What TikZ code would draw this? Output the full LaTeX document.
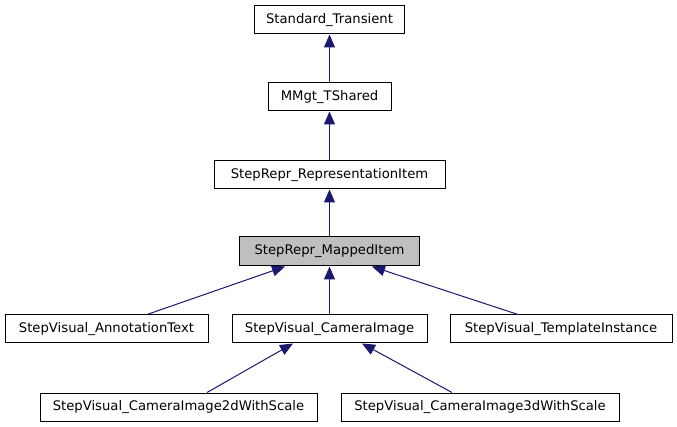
\documentclass[tikz,border=0pt]{standalone}
\usepackage{fontspec}
\setmainfont{DejaVu Sans}
\usetikzlibrary{arrows.meta}
\definecolor{edgeblue}{HTML}{191970}
\definecolor{hlgray}{HTML}{BFBFBF}
\begin{document}
\begin{tikzpicture}[x=1pt,y=-1pt,
  cls/.style={draw=black, line width=1pt, fill=white, rectangle, inner sep=0pt,
    minimum height=28pt, font=\fontsize{13.2}{15}\selectfont},
  hl/.style={cls, fill=hlgray},
  edge/.style={draw=edgeblue, line width=1pt, {Triangle[length=13pt,width=11pt,fill=edgeblue]}-}]
\useasboundingbox (0,0) rectangle (677,427);
\node[cls, minimum width=150pt] (st) at (329.5,20) {Standard\_Transient};
\node[cls, minimum width=123pt] (mm) at (329.5,97) {MMgt\_TShared};
\node[cls, minimum width=231pt] (ri) at (329.5,175) {StepRepr\_RepresentationItem};
\node[hl, minimum width=180pt, minimum height=29pt] (mi) at (329.5,251.5) {StepRepr\_MappedItem};
\node[cls, minimum width=203pt] (at) at (106.5,329) {StepVisual\_AnnotationText};
\node[cls, minimum width=195pt] (ci) at (329.5,329) {StepVisual\_CameraImage};
\node[cls, minimum width=222pt] (ti) at (561,329) {StepVisual\_TemplateInstance};
\node[cls, minimum width=277pt] (c2) at (178.5,407) {StepVisual\_CameraImage2dWithScale};
\node[cls, minimum width=278pt] (c3) at (480,407) {StepVisual\_CameraImage3dWithScale};
\draw[edge] (st.south) -- (mm.north);
\draw[edge] (mm.south) -- (ri.north);
\draw[edge] (ri.south) -- (mi.north);
\draw[edge] ([xshift=-44.5pt]mi.south) -- ([xshift=40.5pt]at.north);
\draw[edge] (mi.south) -- (ci.north);
\draw[edge] ([xshift=42.5pt]mi.south) -- ([xshift=-43pt]ti.north);
\draw[edge] ([xshift=-36.5pt]ci.south) -- ([xshift=28.5pt]c2.north);
\draw[edge] ([xshift=32.5pt]ci.south) -- ([xshift=-28pt]c3.north);
\end{tikzpicture}
\end{document}
